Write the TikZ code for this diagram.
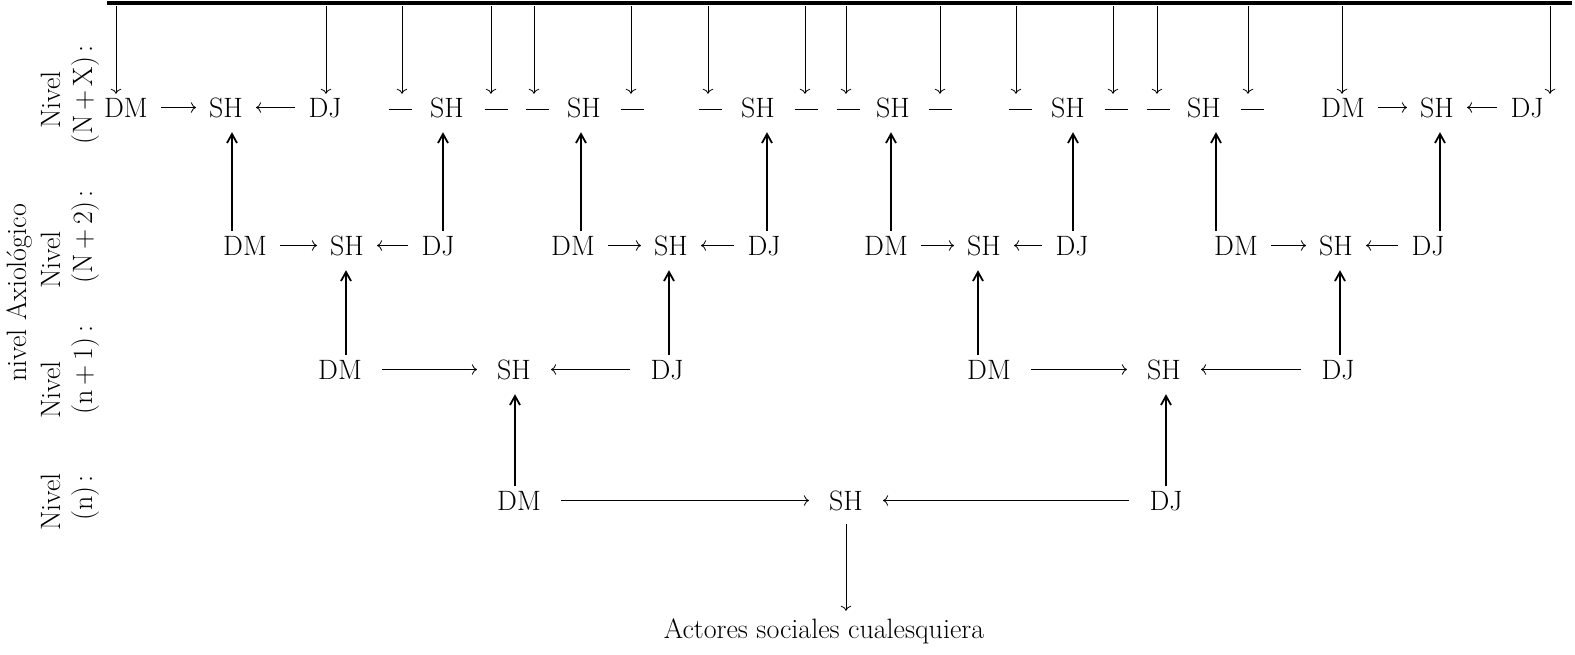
\documentclass[tikz,border=0pt]{standalone}
\usepackage{fontspec}
\usetikzlibrary{arrows.meta}
\newcommand{\dsh}{\rule[7pt]{23pt}{1.4pt}}
\begin{document}
\begin{tikzpicture}[x=1pt,y=-1pt,
  lbl/.style={font=\fontsize{28}{32}\selectfont, inner sep=0pt, text height=19pt, text depth=0pt, anchor=base},
  side/.style={font=\fontsize{28}{32}\selectfont, inner sep=0pt, rotate=90, anchor=base},
  thinarr/.style={line width=0.8pt, -{To[scale=1.5]}},
  sharr/.style={thinarr, shorten <=13pt, shorten >=13pt},
  larr/.style={thinarr, shorten <=20pt, shorten >=20pt},
  uparr/.style={line width=2.1pt, -{Straight Barb[length=9pt,width=10pt,line width=1.8pt]}, shorten <=5pt, shorten >=15pt}]
\useasboundingbox (0,0) rectangle (1575,654);

% top bar
\coordinate (L0) at (107,3);
\coordinate (L1) at (1572,3);
\draw[line width=4.5pt] (L0) -- (L1);

% side labels
\node[side] (ax) at (27,293) {nivel Axiológico};
\node[side] (nv1) at (60,100) {Nivel};
\node[side] (pn1) at (92,95) {(N\,+\,X)\,:};
\node[side] (nv2) at (60,260) {Nivel};
\node[side] (pn2) at (92,237) {(N\,+\,2)\,:};
\node[side] (nv3) at (60,390) {Nivel};
\node[side] (pn3) at (92,370) {(n\,+\,1)\,:};
\node[side] (nv4) at (60,502) {Nivel};
\node[side] (pn4) at (92,498) {(n)\,:};

% row 1
\node[lbl] (dm1a) at (126,117) {DM};
\node[lbl] (s1a)  at (226,117) {SH};
\node[lbl] (dj1a) at (325,117) {DJ};
\node[lbl] (d1)   at (400,117) {\dsh};
\node[lbl] (s1b)  at (447,117) {SH};
\node[lbl] (d2)   at (496,117) {\dsh};
\node[lbl] (d3)   at (537,117) {\dsh};
\node[lbl] (s1c)  at (584,117) {SH};
\node[lbl] (d4)   at (632,117) {\dsh};
\node[lbl] (d5)   at (710,117) {\dsh};
\node[lbl] (s1d)  at (758,117) {SH};
\node[lbl] (d6)   at (806,117) {\dsh};
\node[lbl] (d7)   at (848,117) {\dsh};
\node[lbl] (s1e)  at (893,117) {SH};
\node[lbl] (d8)   at (940,117) {\dsh};
\node[lbl] (d9)   at (1020,117) {\dsh};
\node[lbl] (s1f)  at (1068,117) {SH};
\node[lbl] (d10)  at (1116,117) {\dsh};
\node[lbl] (d11)  at (1158,117) {\dsh};
\node[lbl] (s1g)  at (1204,117) {SH};
\node[lbl] (d12)  at (1252,117) {\dsh};
\node[lbl] (dm1h) at (1343,117) {DM};
\node[lbl] (s1h)  at (1437,117) {SH};
\node[lbl] (dj1h) at (1527,117) {DJ};

% row 2
\node[lbl] (dm2a) at (245,255) {DM};
\node[lbl] (s2a)  at (347,255) {SH};
\node[lbl] (dj2a) at (438,255) {DJ};
\node[lbl] (dm2b) at (573,255) {DM};
\node[lbl] (s2b)  at (671,255) {SH};
\node[lbl] (dj2b) at (764,255) {DJ};
\node[lbl] (dm2c) at (886,255) {DM};
\node[lbl] (s2c)  at (984,255) {SH};
\node[lbl] (dj2c) at (1072,255) {DJ};
\node[lbl] (dm2d) at (1236,255) {DM};
\node[lbl] (s2d)  at (1336,255) {SH};
\node[lbl] (dj2d) at (1428,255) {DJ};

% row 3
\node[lbl] (dm3a) at (340,379) {DM};
\node[lbl] (s3a)  at (514,379) {SH};
\node[lbl] (dj3a) at (667,379) {DJ};
\node[lbl] (dm3b) at (989,379) {DM};
\node[lbl] (s3b)  at (1164,379) {SH};
\node[lbl] (dj3b) at (1338,379) {DJ};

% row 4
\node[lbl] (dm4) at (519,510) {DM};
\node[lbl] (s4)  at (846,510) {SH};
\node[lbl] (dj4) at (1166,510) {DJ};

\node[font=\fontsize{28}{32}\selectfont, inner sep=0pt, text height=19pt, text depth=0pt, anchor=base] (act) at (824,638) {Actores sociales cualesquiera};

% top arrows
\foreach \x/\n in {116/dm1a, 326/dj1a, 402/d1, 491/d2, 534/d3, 631/d4, 708/d5, 805/d6, 846/d7, 940/d8, 1016/d9, 1113/d10, 1157/d11, 1248/d12, 1342/dm1h, 1550/dj1h} {
  \coordinate (t\n) at (\x,6);
  \draw[thinarr, shorten >=4pt] (t\n) -- (t\n |- \n.north);
}

% horizontal arrows
\draw[sharr] (dm1a) -- (s1a);
\draw[sharr] (dj1a) -- (s1a);
\draw[sharr] (dm1h) -- (s1h);
\draw[sharr] (dj1h) -- (s1h);
\draw[sharr] (dm2a) -- (s2a);
\draw[sharr] (dj2a) -- (s2a);
\draw[sharr] (dm2b) -- (s2b);
\draw[sharr] (dj2b) -- (s2b);
\draw[sharr] (dm2c) -- (s2c);
\draw[sharr] (dj2c) -- (s2c);
\draw[sharr] (dm2d) -- (s2d);
\draw[sharr] (dj2d) -- (s2d);
\draw[larr] (dm3a) -- (s3a);
\draw[larr] (dj3a) -- (s3a);
\draw[larr] (dm3b) -- (s3b);
\draw[larr] (dj3b) -- (s3b);
\draw[larr] (dm4) -- (s4);
\draw[larr] (dj4) -- (s4);

% vertical up arrows
\foreach \s/\t/\x in {dm2a/s1a/232, dj2a/s1b/443, dm2b/s1c/581, dj2b/s1d/767, dm2c/s1e/891, dj2c/s1f/1073, dm2d/s1g/1216, dj2d/s1h/1440, dm3a/s2a/346, dj3a/s2b/669, dm3b/s2c/978, dj3b/s2d/1340, dm4/s3a/515, dj4/s3b/1166} {
  \coordinate (v\s) at (\x,0);
  \draw[uparr] (\s.north -| v\s) -- (\t.south -| v\s);
}

% down to actors
\draw[thinarr, shorten <=14pt, shorten >=8pt] (s4.south) -- (s4.south |- act.north);
\end{tikzpicture}
\end{document}
